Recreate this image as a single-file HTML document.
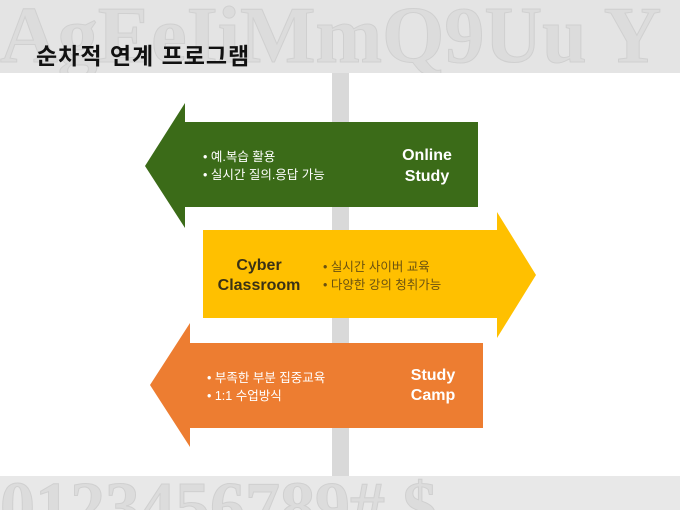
<!DOCTYPE html>
<html><head><meta charset="utf-8"><style>
html,body{margin:0;width:680px;height:510px;overflow:hidden}
body{background:#fff;font-family:"Liberation Sans","Noto Sans CJK KR",sans-serif;position:relative}
.band{position:absolute;left:0;width:680px;background:#e4e4e4}
.t{position:absolute;white-space:nowrap}
svg{display:block}
</style></head><body>
<div class="band" style="top:0;height:73px"></div>
<div class="band" style="top:476px;height:34px;background:#e8e8e8"></div>
<svg style="position:absolute;left:0;top:0;overflow:hidden" width="680" height="510">
<defs><clipPath id="c1"><rect x="0" y="0" width="680" height="73"/></clipPath><clipPath id="c2"><rect x="0" y="476" width="680" height="34"/></clipPath></defs>
<g font-family="Liberation Serif" font-weight="bold" fill="#dcdcdc" stroke="#d0d0d0" stroke-width="1">
<text x="0" y="62" font-size="80" clip-path="url(#c1)">AgEeIiMmQ9Uu Y</text>
<text x="0" y="530" font-size="70" clip-path="url(#c2)">0123456789#  $</text>
</g>
<rect x="332" y="73" width="17" height="403" fill="#d9d9d9"/>
<polygon points="145,166 185,103 185,122 478,122 478,207 185,207 185,228" fill="#3b6b18"/>
<polygon points="203,230 497,230 497,212 536,275 497,338 497,318 203,318" fill="#ffc000"/>
<polygon points="150,385 190,323 190,343 483,343 483,428 190,428 190,447" fill="#ed7d31"/>
</svg>
<div class="t" style="left:36px;top:37px;font-size:23px;letter-spacing:1px;font-weight:bold;color:#111">순차적 연계 프로그램</div>
<div class="t" style="left:203px;top:148px;font-size:12.5px;line-height:18px;color:#fff">• 예.복습 활용<br>• 실시간 질의.응답 가능</div>
<div class="t" style="left:377px;top:145px;width:100px;text-align:center;font-size:16px;font-weight:bold;line-height:21px;color:#fff">Online<br>Study</div>
<div class="t" style="left:209px;top:256px;width:100px;text-align:center;font-size:16px;font-weight:bold;line-height:20px;color:#3a3115">Cyber<br>Classroom</div>
<div class="t" style="left:323px;top:258px;font-size:12.5px;line-height:18px;color:#6b5210">• 실시간 사이버 교육<br>• 다양한 강의 청취가능</div>
<div class="t" style="left:207px;top:369px;font-size:12.5px;line-height:18px;color:#fff">• 부족한 부분 집중교육<br>• 1:1 수업방식</div>
<div class="t" style="left:383px;top:366px;width:100px;text-align:center;font-size:16px;font-weight:bold;line-height:20px;color:#fff">Study<br>Camp</div>
</body></html>
